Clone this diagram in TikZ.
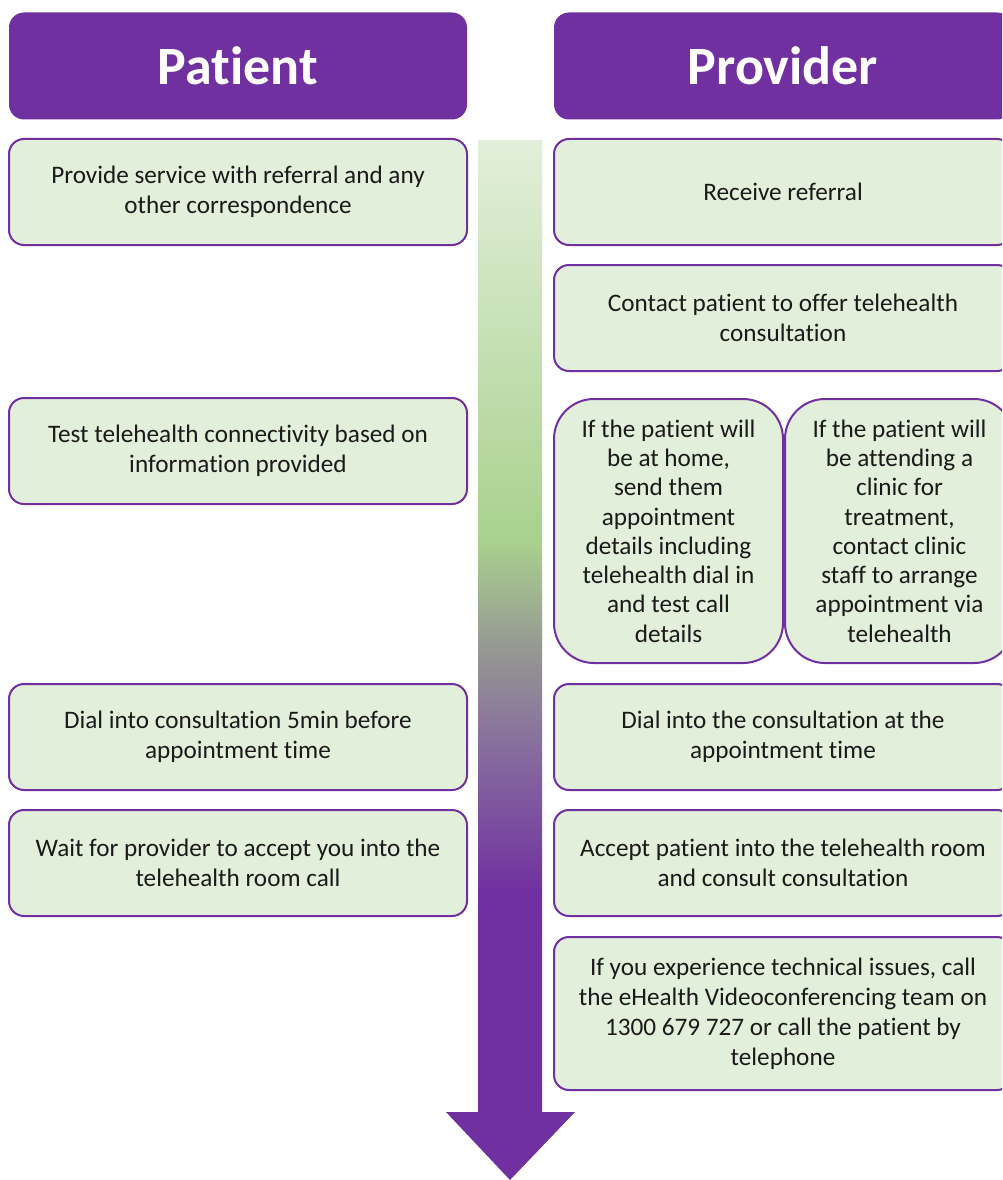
\documentclass[tikz,border=0pt]{standalone}
\usepackage{fontspec}
\setmainfont{Carlito}[Ligatures={NoCommon}]
\definecolor{headpurple}{HTML}{7030A0}
\definecolor{boxgreen}{HTML}{E2EFDA}
\definecolor{midgreen}{HTML}{A9D18E}
\definecolor{midgrey}{HTML}{949494}
\definecolor{midpurple}{HTML}{85689E}
\definecolor{textdark}{HTML}{1A1A1A}
% timeline shading: the path box maps onto 25bp..75bp
\pgfdeclareverticalshading{flowshade}{100bp}{color(0bp)=(headpurple); color(38.8bp)=(headpurple); color(45.2bp)=(midpurple); color(50.15bp)=(midgrey); color(55.75bp)=(midgreen); color(75bp)=(boxgreen); color(100bp)=(boxgreen)}
\begin{document}
\begin{tikzpicture}[x=1pt,y=-1pt,
  hdr/.style={fill=headpurple, rounded corners=15pt, text=white, inner sep=0pt,
    minimum width=458pt, minimum height=107pt,
    font=\fontsize{54}{64}\selectfont\bfseries},
  stepbox/.style={draw=headpurple, line width=2pt, fill=boxgreen, rounded corners=15pt,
    align=center, inner sep=0pt, minimum width=458pt, minimum height=106pt,
    text=textdark, font=\fontsize{25.2}{30}\selectfont},
  tallbox/.style={stepbox, rounded corners=40pt, minimum width=229pt, minimum height=264pt,
    font=\fontsize{25.2}{29.3}\selectfont}]
\useasboundingbox (0,0) rectangle (1002,1180);
\clip (0,0) rectangle (1002,1180);

% timeline arrow
\path[shading=flowshade] (478,140) -- (542,140) -- (542,1112) -- (575,1112)
  -- (510,1180) -- (446,1112) -- (478,1112) -- cycle;

% column headers
\node[hdr] (hpat) at (238,66) {Patient};
\node[hdr] (hpro) at (783,66) {Provider};

% patient steps
\node[stepbox] (p1) at (238,192) {Provide service with referral and any\\other correspondence};
\node[stepbox] (p2) at (238,451) {Test telehealth connectivity based on\\information provided};
\node[stepbox] (p3) at (238,737) {Dial into consultation 5min before\\appointment time};
\node[stepbox] (p4) at (238,863) {Wait for provider to accept you into the\\telehealth room call};

% provider steps
\node[stepbox] (r1) at (783,192) {Receive referral};
\node[stepbox] (r2) at (783,318) {Contact patient to offer telehealth\\consultation};
\node[tallbox] (r3a) at (668.5,531) {If the patient will\\be at home,\\send them\\appointment\\details including\\telehealth dial in\\and test call\\details};
\node[tallbox] (r3b) at (899.5,531) {If the patient will\\be attending a\\clinic for\\treatment,\\contact clinic\\staff to arrange\\appointment via\\telehealth};
\node[stepbox] (r4) at (783,737) {Dial into the consultation at the\\appointment time};
\node[stepbox] (r5) at (783,863) {Accept patient into the telehealth room\\and consult consultation};
\node[stepbox, minimum height=153pt] (r6) at (783,1013.5) {If you experience technical issues, call\\the eHealth Videoconferencing team on\\1300 679 727 or call the patient by\\telephone};
\end{tikzpicture}
\end{document}
